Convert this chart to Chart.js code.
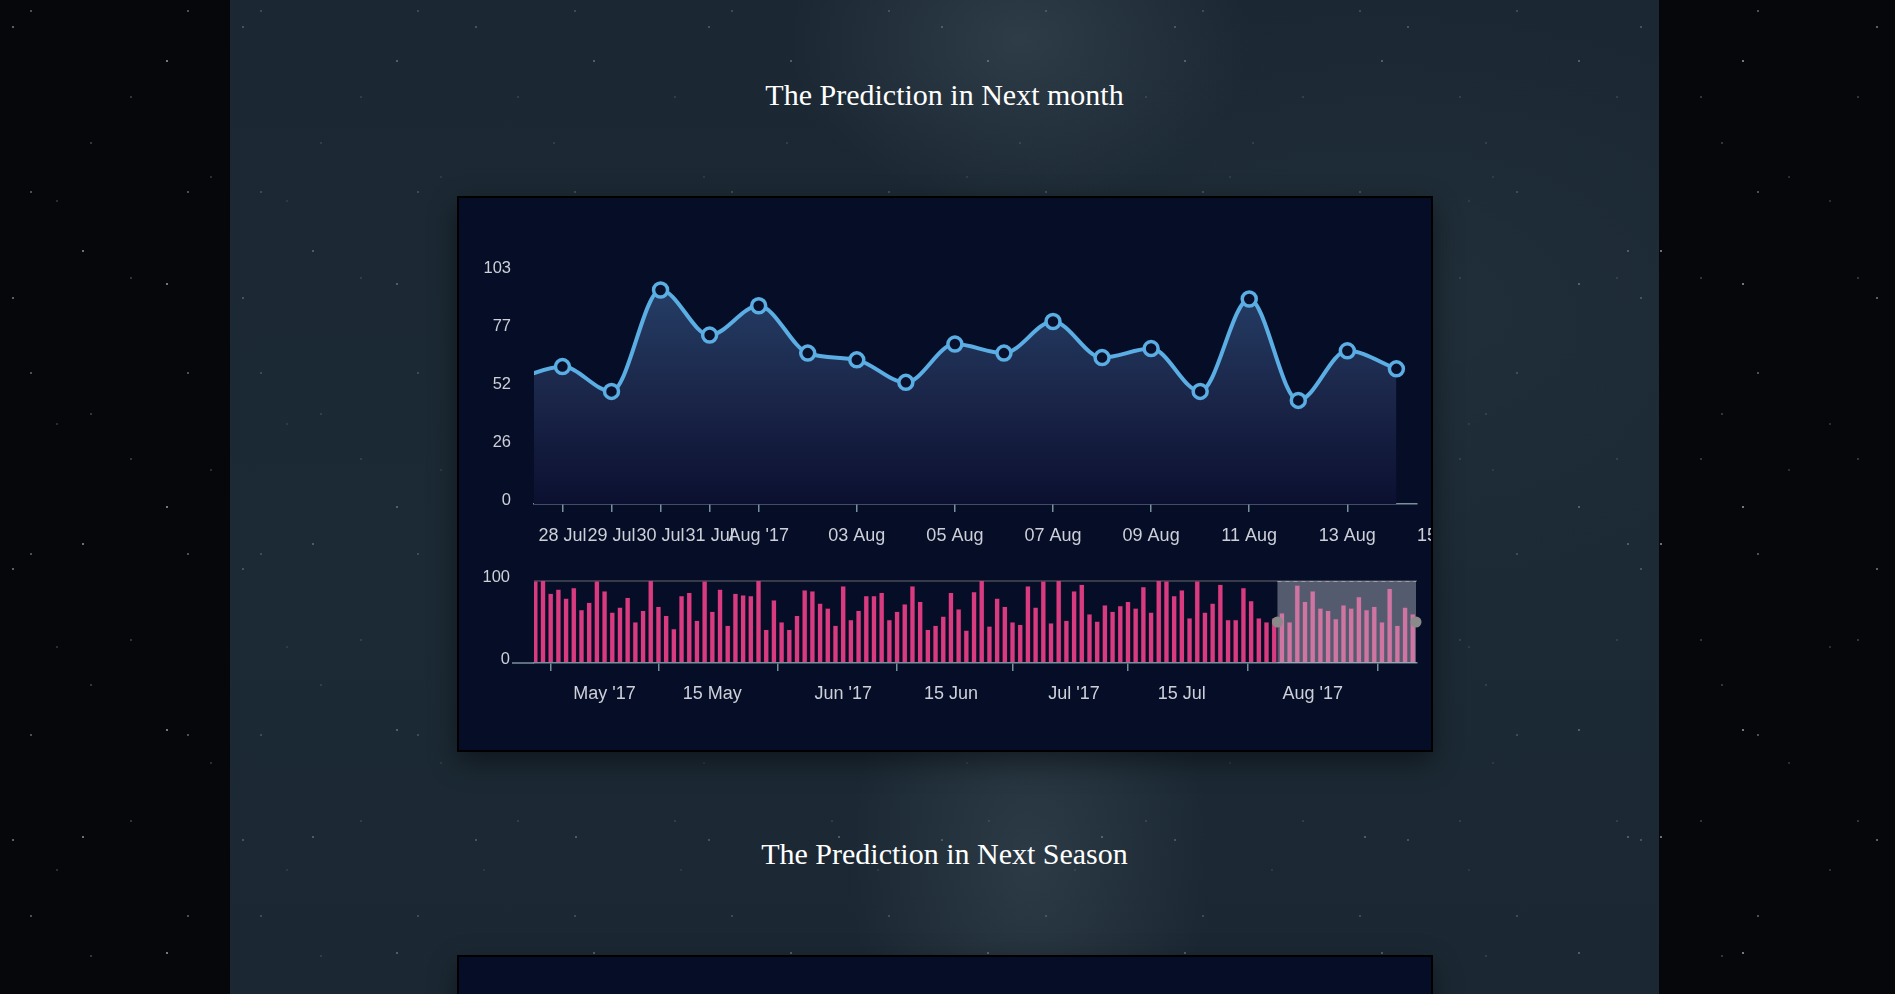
<!DOCTYPE html>
<html>
<head>
<meta charset="utf-8">
<title>The Prediction in Next month</title>
<script src="https://cdn.jsdelivr.net/npm/chart.js@4.4.1/dist/chart.umd.min.js"></script>
<style>
  html, body { margin: 0; padding: 0; }
  body {
    width: 1895px; height: 994px; overflow: hidden; position: relative;
    background: #05070a;
    font-family: "Liberation Serif", "Times New Roman", serif;
  }
  .sky, .column::before {
    content: ""; position: absolute; inset: 0;
    background-image:
      radial-gradient(1.2px 1.2px at 13px 27px, rgba(255,255,255,.85), transparent),
      radial-gradient(1px 1px at 91px 143px, rgba(220,230,255,.7), transparent),
      radial-gradient(1.4px 1.4px at 167px 61px, rgba(255,255,255,.9), transparent),
      radial-gradient(1px 1px at 57px 201px, rgba(200,215,255,.6), transparent),
      radial-gradient(1px 1px at 131px 97px, rgba(255,255,255,.6), transparent),
      radial-gradient(1.2px 1.2px at 31px 11px, rgba(255,255,255,.7), transparent),
      radial-gradient(1px 1px at 211px 177px, rgba(230,235,255,.55), transparent),
      radial-gradient(1.5px 1.5px at 83px 251px, rgba(255,255,255,.8), transparent);
    background-size: 233px 271px, 233px 271px, 197px 223px, 197px 223px, 157px 181px, 157px 181px, 263px 293px, 263px 293px;
  }
  .column {
    position: absolute; left: 230px; top: 0; width: 1429px; height: 994px;
    background:
      radial-gradient(ellipse 230px 170px at 790px 40px, rgba(95,112,122,.28), transparent),
      radial-gradient(ellipse 180px 260px at 800px 860px, rgba(95,112,122,.25), transparent),
      radial-gradient(ellipse 500px 300px at 1150px 300px, rgba(60,80,90,.15), transparent),
      linear-gradient(#1b2833, #1c2a35 60%, #1b2833);
  }
  .column::before { opacity: .55; }
  h2 {
    position: absolute; left: 0; width: 100%; margin: 0; text-align: center;
    font-weight: normal; font-size: 30px; line-height: 36px; color: #fff;
  }
  .card {
    position: absolute; left: 227px; width: 976px; height: 556px;
    box-sizing: border-box; border: 2px solid #000;
    background: #060e27; box-shadow: 0 10px 26px rgba(0,0,0,.45);
  }
  .chart-box { position: absolute; left: 0; width: 972px; }
</style>
</head>
<body>
<div class="sky"></div>
<div class="column">
  <h2 style="top:77px">The Prediction in Next month</h2>
  <div class="card" style="top:196px">
    <div class="chart-box" style="top:0;height:356px"><canvas id="mainChart"></canvas></div>
    <div class="chart-box" style="top:358px;height:152px"><canvas id="brushChart"></canvas></div>
  </div>
  <h2 style="top:836px">The Prediction in Next Season</h2>
  <div class="card" style="top:955px"></div>
</div>

<script>
// daily series, first value is 22 Apr 2017, last is 14 Aug 2017
const firstDay = "2017-04-22";
const dailyValues = [
  100, 101, 85, 90, 79, 92, 65, 74, 100, 88, 62, 68, 80, 50, 64, 102, 69, 58, 42, 82,
  86, 52, 100, 63, 90, 46, 85, 83, 82, 103, 41, 77, 50, 41, 58, 89, 88, 73, 67, 46,
  94, 53, 64, 82, 82, 86, 53, 63, 72, 94, 75, 41, 46, 57, 86, 66, 40, 87, 101, 45,
  79, 69, 50, 47, 94, 68, 100, 49, 101, 52, 88, 96, 60, 51, 71, 63, 70, 75, 67, 93,
  62, 102, 100, 82, 89, 55, 100, 62, 73, 96, 53, 53, 92, 76, 55, 50, 55,
  61, 50, 95, 75, 88, 67, 64, 54, 71, 67, 81, 65, 69, 50, 91, 46, 68, 60
];

const mainTickDates = ["2017-07-28", "2017-07-29", "2017-07-30", "2017-07-31", "2017-08-01", "2017-08-03",
  "2017-08-05", "2017-08-07", "2017-08-09", "2017-08-11", "2017-08-13", "2017-08-15"];
const mainTickLabels = ["28 Jul", "29 Jul", "30 Jul", "31 Jul", "Aug '17", "03 Aug",
  "05 Aug", "07 Aug", "09 Aug", "11 Aug", "13 Aug", "15 Aug"];
const mainYTicks = [0, 25.75, 51.5, 77.25, 103];
const mainYTickLabels = ["0", "26", "52", "77", "103"];

const brushTickDates = ["2017-05-01", "2017-05-15", "2017-06-01", "2017-06-15", "2017-07-01", "2017-07-15", "2017-08-01"];
const brushTickLabels = ["May '17", "15 May", "Jun '17", "15 Jun", "Jul '17", "15 Jul", "Aug '17"];
const brushYTicks = [0, 100];
const brushYTickLabels = ["0", "100"];

const DAY = 86400000;
const dayIndex = (s) => (Date.parse(s) - Date.parse(firstDay)) / DAY;

// brush selection = range shown in the upper chart
const selectionStart = dayIndex("2017-07-27") + 0.42;
const selectionDays = 18;
const brushMin = -0.17;
const brushMax = dayIndex("2017-08-14") + 0.55;

const AXIS = "#78909c";
const LABEL = "#cdd0d8";
const LINE = "#5aaee4";
const BAR = "#d83b7f";

// keep the plot area where the layout padding puts it
const noPad = (s) => { s.paddingLeft = 0; s.paddingRight = 0; s.paddingTop = 0; s.paddingBottom = 0; };

document.addEventListener("DOMContentLoaded", () => {
  const points = dailyValues.map((v, i) => ({ x: i, y: v }));

  const areaFill = (c) => {
    const area = c.chart.chartArea;
    if (!area) return "rgba(0,0,0,0)";
    const g = c.chart.ctx.createLinearGradient(0, area.top, 0, area.bottom);
    g.addColorStop(0, "#27416a");
    g.addColorStop(0.55, "#1a2548");
    g.addColorStop(1, "#0b1030");
    return g;
  };

  new Chart(document.getElementById("mainChart"), {
    type: "line",
    data: { datasets: [{
      data: points,
      borderColor: LINE,
      borderWidth: 4,
      backgroundColor: areaFill,
      fill: "origin",
      cubicInterpolationMode: "monotone",
      pointRadius: 7,
      pointBorderWidth: 3.5,
      pointBackgroundColor: "#08102b",
      pointBorderColor: LINE
    }]},
    options: {
      responsive: true,
      maintainAspectRatio: false,
      animation: false,
      layout: { autoPadding: false, padding: { top: 74, right: 14, bottom: 0, left: 0 } },
      plugins: { legend: { display: false }, tooltip: { enabled: false } },
      scales: {
        x: {
          type: "linear",
          z: 1,
          min: selectionStart,
          max: selectionStart + selectionDays,
          afterBuildTicks: (s) => { s.ticks = mainTickDates.map(d => ({ value: dayIndex(d) })); },
          afterFit: (s) => { s.height = 50; noPad(s); },
          ticks: {
            autoSkip: false, maxRotation: 0, padding: 13, color: LABEL,
            font: { family: "Liberation Sans", size: 18 },
            callback: (v, i) => mainTickLabels[i]
          },
          grid: { drawOnChartArea: false, drawTicks: true, tickLength: 8, color: AXIS, lineWidth: 1.5 },
          border: { display: true, color: AXIS, width: 1.5 }
        },
        y: {
          min: 0,
          max: 103,
          afterBuildTicks: (s) => { s.ticks = mainYTicks.map(v => ({ value: v })); },
          afterFit: (s) => { s.width = 75; noPad(s); },
          ticks: {
            padding: 23, labelOffset: -4, color: LABEL,
            font: { family: "Liberation Sans", size: 16.5 },
            callback: (v, i) => mainYTickLabels[i]
          },
          grid: { display: false, drawTicks: false },
          border: { display: false }
        }
      }
    }
  });

  const brushSelection = {
    id: "brushSelection",
    afterDatasetsDraw(chart) {
      const { ctx, chartArea, scales } = chart;
      const x0 = scales.x.getPixelForValue(selectionStart);
      const x1 = scales.x.getPixelForValue(Math.min(selectionStart + selectionDays, brushMax));
      const top = chartArea.top, bottom = chartArea.bottom;
      ctx.save();
      // axis line runs on under the y labels
      ctx.strokeStyle = AXIS;
      ctx.lineWidth = 1.5;
      ctx.beginPath();
      ctx.moveTo(chartArea.left - 22, bottom);
      ctx.lineTo(chartArea.left, bottom);
      ctx.stroke();

      ctx.fillStyle = "rgba(196,198,212,0.42)";
      ctx.fillRect(x0, top, x1 - x0, bottom - top);
      ctx.setLineDash([4, 4]);
      ctx.strokeStyle = "#9aa0ab";
      ctx.lineWidth = 1.2;
      ctx.beginPath();
      ctx.moveTo(x0, top + 0.5);
      ctx.lineTo(x1, top + 0.5);
      ctx.stroke();
      ctx.setLineDash([]);
      ctx.fillStyle = "#8a8a8a";
      const mid = (top + bottom) / 2;
      [x0, x1].forEach(x => {
        ctx.beginPath();
        ctx.arc(x, mid, 5.5, 0, Math.PI * 2);
        ctx.fill();
      });
      ctx.restore();
    }
  };

  new Chart(document.getElementById("brushChart"), {
    type: "bar",
    data: { datasets: [{
      data: points,
      backgroundColor: BAR,
      borderColor: "rgba(90,24,64,0.45)",
      borderWidth: 0.6,
      barPercentage: 0.9,
      categoryPercentage: 0.8
    }]},
    options: {
      responsive: true,
      maintainAspectRatio: false,
      animation: false,
      layout: { autoPadding: false, padding: { top: 25, right: 14, bottom: 0, left: 0 } },
      plugins: { legend: { display: false }, tooltip: { enabled: false } },
      scales: {
        x: {
          type: "linear",
          offset: false,
          min: brushMin,
          max: brushMax,
          afterBuildTicks: (s) => { s.ticks = brushTickDates.map(d => ({ value: dayIndex(d) })); },
          afterFit: (s) => { s.height = 45; noPad(s); },
          ticks: {
            autoSkip: false, maxRotation: 0, padding: 12, color: LABEL,
            font: { family: "Liberation Sans", size: 18 },
            callback: (v, i) => brushTickLabels[i]
          },
          grid: { drawOnChartArea: false, drawTicks: true, tickLength: 8, color: AXIS, lineWidth: 1.5 },
          border: { display: true, color: AXIS, width: 1.5 }
        },
        y: {
          min: 0,
          max: 100,
          afterBuildTicks: (s) => { s.ticks = brushYTicks.map(v => ({ value: v })); },
          afterFit: (s) => { s.width = 75; noPad(s); },
          ticks: {
            padding: 24, labelOffset: -4, color: LABEL,
            font: { family: "Liberation Sans", size: 16.5 },
            callback: (v, i) => brushYTickLabels[i]
          },
          grid: {
            drawTicks: false, lineWidth: 2,
            color: (c) => (c.tick && c.tick.value === 0 ? "rgba(0,0,0,0)" : "#373b49")
          },
          border: { display: false }
        }
      }
    },
    plugins: [brushSelection]
  });
});
</script>
</body>
</html>
